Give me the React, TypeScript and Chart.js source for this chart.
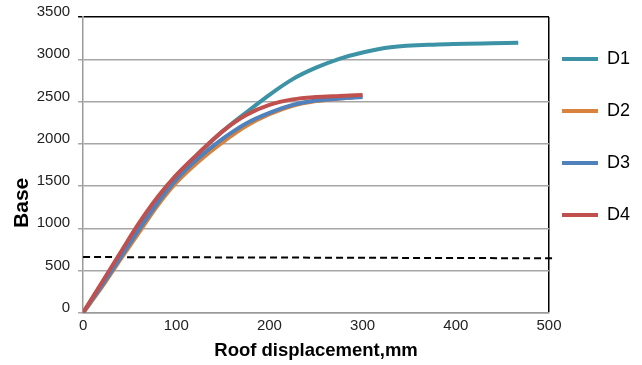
import React, { useEffect, useRef } from 'react';
import { Chart, registerables } from 'chart.js';

Chart.register(...registerables);

// ---- data ----
const seriesNames = ['D1', 'D2', 'D3', 'D4'];
const seriesColors = ['#3C93A5', '#D9823B', '#4F81BD', '#C0504D'];

const d1Disp = [0, 20, 40, 60, 80, 100, 125, 150, 175, 200, 225, 250, 275, 300, 330, 380, 467];
const d1Shear = [0, 345, 700, 1050, 1360, 1625, 1895, 2150, 2370, 2580, 2765, 2900, 3005, 3080, 3142, 3175, 3195];

const d2Disp = [0, 20, 40, 60, 80, 100, 125, 150, 175, 200, 225, 250, 275, 290];
const d2Shear = [0, 300, 630, 950, 1270, 1540, 1800, 2020, 2210, 2350, 2450, 2505, 2535, 2548];

const d3Disp = [0, 20, 40, 60, 80, 100, 125, 150, 175, 200, 225, 250, 275, 300];
const d3Shear = [0, 320, 650, 985, 1300, 1575, 1840, 2060, 2240, 2365, 2460, 2512, 2535, 2552];

const d4Disp = [0, 20, 40, 60, 80, 100, 125, 150, 175, 200, 225, 250, 275, 300];
const d4Shear = [0, 355, 710, 1060, 1370, 1630, 1900, 2150, 2340, 2460, 2525, 2553, 2566, 2578];

const limitDisp = [0, 505];
const limitShear = [660, 645];

const xMin = 0;
const xMax = 500;
const xStep = 100;
const yMin = 0;
const yMax = 3500;
const yStep = 500;

const xTitle = 'Roof displacement,mm';
const yTitle = 'Base';

const allDisp = [d1Disp, d2Disp, d3Disp, d4Disp];
const allShear = [d1Shear, d2Shear, d3Shear, d4Shear];

const legendShift = {
  id: 'legendShift',
  afterLayout(chart: any) {
    const lg = chart.legend;
    if (!lg) return;
    const pad = lg.options.labels.padding;
    const dx = chart.chartArea.right + 13 - (lg.left + pad);
    lg.left += dx;
  },
};

const FONT = '"Liberation Sans", Arial, sans-serif';

export default function App() {
  const ref = useRef<HTMLCanvasElement | null>(null);

  useEffect(() => {
    document.body.style.margin = '0';
    const canvas = ref.current;
    if (!canvas) return;

    const datasets: any[] = seriesNames.map((name, i) => ({
      label: name,
      data: allDisp[i].map((x, j) => ({ x, y: allShear[i][j] })),
      borderColor: seriesColors[i],
      backgroundColor: seriesColors[i],
      borderWidth: 4,
      pointRadius: 0,
      pointStyle: 'line',
      cubicInterpolationMode: 'monotone',
      order: seriesNames.length - i,
    }));

    datasets.push({
      label: '',
      data: limitDisp.map((x, j) => ({ x, y: limitShear[j] })),
      borderColor: '#000000',
      backgroundColor: '#000000',
      borderWidth: 2,
      borderDash: [7, 4],
      pointRadius: 0,
      clip: false,
      order: 10,
    });

    const chart = new Chart(canvas, {
      type: 'line',
      data: { datasets },
      plugins: [legendShift],
      options: {
        animation: false,
        responsive: false,
        maintainAspectRatio: false,
        layout: { padding: { left: 0, right: 0, top: 16, bottom: 0 } },
        plugins: {
          tooltip: { enabled: false },
          legend: {
            position: 'right',
            align: 'start',
            maxWidth: 93,
            labels: {
              usePointStyle: true,
              pointStyleWidth: 36,
              padding: 34,
              color: '#000000',
              font: { family: FONT, size: 18 },
              filter: (item: any) => item.text !== '',
              sort: (a: any, b: any) => a.datasetIndex - b.datasetIndex,
            },
          },
        },
        scales: {
          x: {
            type: 'linear',
            min: xMin,
            max: xMax,
            ticks: {
              stepSize: xStep,
              color: '#222222',
              padding: 4,
              font: { family: FONT, size: 15 },
              maxRotation: 0,
              callback: (v: any) => String(v),
            },
            grid: {
              drawTicks: false,
              lineWidth: 1.5,
              color: (ctx: any) => (ctx.tick && ctx.tick.value === xMax ? '#000000' : 'rgba(0,0,0,0)'),
            },
            border: { display: true, color: '#9A9A9A', width: 1.5 },
            title: {
              display: true,
              text: xTitle,
              color: '#000000',
              font: { family: FONT, size: 18.5, weight: 'bold' },
              padding: { top: 1, bottom: 3 },
            },
          },
          y: {
            type: 'linear',
            min: yMin,
            max: yMax,
            ticks: {
              stepSize: yStep,
              color: '#222222',
              padding: 8,
              labelOffset: -5,
              font: { family: FONT, size: 15 },
              callback: (v: any) => String(v),
            },
            grid: {
              drawTicks: true,
              tickLength: 5,
              lineWidth: 1.5,
              color: (ctx: any) => (ctx.tick && ctx.tick.value === yMax ? '#000000' : '#A6A6A6'),
            },
            border: { display: true, color: '#9A9A9A', width: 1.5 },
            title: {
              display: true,
              text: yTitle + '             ',
              color: '#000000',
              font: { family: FONT, size: 21, weight: 'bold' },
              padding: { top: 9.5, bottom: -6 },
            },
          },
        },
      },
    });

    return () => chart.destroy();
  }, []);

  return (
    <div style={{ position: 'absolute', left: 0, top: 0, width: 642, height: 365 }}>
      <canvas ref={ref} width={642} height={365} style={{ display: 'block', width: 642, height: 365 }} />
    </div>
  );
}
